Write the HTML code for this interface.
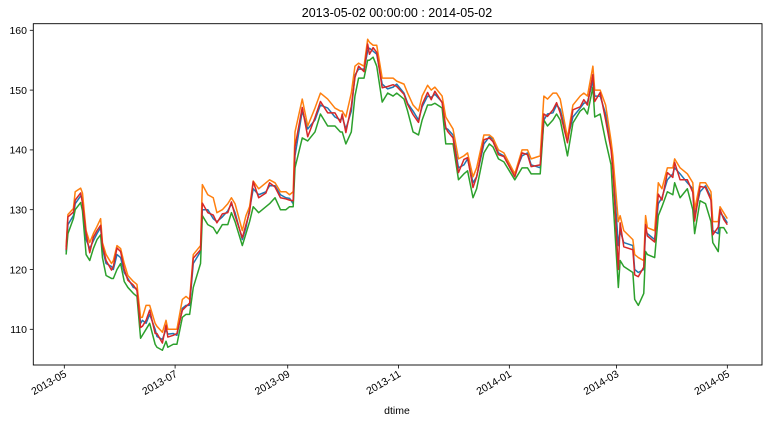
<!DOCTYPE html>
<html>
<head>
<meta charset="utf-8">
<style>
html,body{margin:0;padding:0;background:#fff;}
svg{display:block;font-family:"Liberation Sans",sans-serif;}
</style>
</head>
<body>
<svg id="chart" width="765" height="423" viewBox="0 0 765 423" xmlns="http://www.w3.org/2000/svg">
<rect x="0" y="0" width="765" height="423" fill="#fff"/>
<text x="397" y="17" text-anchor="middle" font-size="12.5" fill="#000">2013-05-02 00:00:00 : 2014-05-02</text>
<g id="series"></g>
<g id="yaxis"></g>
<g id="xaxis"></g>
<rect x="33.3" y="23.7" width="728.7" height="341.3" fill="none" stroke="#000" stroke-width="0.9"/>
<text x="397" y="414" text-anchor="middle" font-size="10.5" fill="#000">dtime</text>
</svg>
<script>
const days = [0,1,4,5,8,9,11,13,15,17, 19,20,22,25,26,28,30,32,34,37, 39,41,42,44,46,49,50,53,55,56, 59,61,64,66,68,70,74,75,78,81, 83,86,89,91,93,97,99,101,103,106, 110,112,115,118,121,123,125,126,130,133, 137,140,144,148,151,152,154,157,159,161, 164,166,167,169,171,174,177,180,182,186, 188,191,194,196,199,201,203,207,209,210, 213,216,219,221,224,226,230,233,235,238, 241,247,251,254,256,261,263,265,268,270, 272,276,279,283,285,287,290,291,294,297, 300,301,304,305,307,312,313,315,318,319, 320,324,326,328,331,334,335,338,342,345, 346,349,352,355,356,359,360,362,364];
const openVals = [123.0,127.5,129.0,131.0,132.3,132.0,125.0,123.5,124.8,126.0,
127.0,123.5,121.0,120.5,120.0,122.5,122.0,119.5,118.5,117.0,
116.8,111.0,111.5,111.0,112.5,110.0,108.8,108.3,110.0,109.2,
109.3,109.0,113.5,114.0,114.0,121.0,123.0,130.0,130.0,128.5,
128.0,128.8,129.8,131.0,129.5,125.0,127.0,130.0,133.5,132.5,
133.0,134.0,134.0,132.5,132.0,131.9,131.0,139.0,146.5,143.5,
145.0,147.5,147.0,145.5,145.0,145.5,143.5,146.5,152.5,153.5,
153.5,156.5,157.0,156.5,156.0,151.0,150.2,150.5,151.0,149.5,
147.8,146.5,145.0,147.2,149.0,148.8,149.3,148.0,143.5,143.5,
142.5,137.0,137.5,138.5,134.5,135.5,141.0,142.2,141.8,139.5,
139.0,136.0,139.0,139.5,137.5,137.0,145.0,146.0,146.2,147.5,
146.8,141.8,145.5,147.0,147.8,148.0,151.5,149.0,149.0,146.0,
141.0,137.5,124.0,126.5,124.5,124.0,120.0,119.5,120.0,126.5,
126.0,125.0,131.0,132.0,135.0,136.0,137.0,136.0,134.5,133.5,
129.0,133.0,134.0,132.0,126.5,126.0,129.5,128.8,127.8];
const highVals = [123.8,129.2,130.2,133.0,133.6,132.8,126.5,124.5,126.0,127.2,
128.5,124.5,122.5,121.0,121.5,124.0,123.5,121.0,119.0,118.0,
117.5,112.0,112.0,114.0,114.0,111.0,110.5,109.5,111.5,110.0,
110.0,110.0,115.0,115.5,115.0,122.5,124.0,134.2,132.5,132.0,
129.5,130.0,131.0,132.0,131.0,126.5,129.0,130.5,134.8,133.5,
134.5,135.0,134.5,133.0,133.0,132.5,133.0,143.0,148.5,144.0,
147.0,149.5,148.5,147.0,146.5,146.5,145.5,149.5,154.0,154.5,
154.0,158.5,158.0,157.5,157.5,152.0,152.0,152.0,151.5,151.0,
149.5,147.5,146.5,149.0,150.8,150.0,150.5,149.0,145.5,145.0,
143.5,138.5,139.0,139.5,135.5,137.0,142.5,142.5,142.0,140.0,
139.5,136.0,140.0,140.0,138.5,139.0,149.0,148.5,149.5,149.5,
148.5,142.0,147.5,149.0,149.5,149.0,154.0,150.0,150.0,147.5,
141.5,139.0,128.0,129.0,126.5,125.0,122.5,122.0,121.5,129.0,
127.0,126.5,134.5,133.5,137.0,137.0,138.5,137.0,136.0,134.5,
130.0,134.5,134.5,133.0,128.0,128.0,130.5,129.5,128.5];
const lowVals = [122.5,126.0,128.5,130.0,131.2,129.8,122.5,121.5,123.5,125.0,
125.8,122.0,119.0,118.5,118.5,120.0,121.0,118.0,117.0,116.0,
115.5,108.5,109.0,110.0,111.0,107.5,107.0,106.5,108.0,107.0,
107.5,107.5,112.0,112.5,112.5,117.0,121.0,129.0,127.5,127.0,
126.0,127.5,127.5,129.5,128.0,124.0,126.0,128.0,130.5,129.5,
130.5,131.0,132.0,130.0,130.0,130.5,130.5,137.0,142.0,141.5,
143.0,146.0,144.0,144.0,143.0,143.0,141.0,143.0,149.0,152.0,
152.0,155.0,155.0,155.5,154.0,148.0,149.5,149.0,149.5,148.5,
146.5,143.0,142.5,145.0,147.5,147.5,147.8,147.0,141.0,141.0,
141.0,135.0,136.0,136.5,132.0,133.5,139.5,141.0,140.5,138.5,
138.0,135.0,137.0,137.0,136.0,136.0,145.0,144.0,145.0,146.0,
145.0,139.0,144.5,146.5,147.0,146.0,150.5,145.5,146.0,141.5,
137.5,132.0,117.0,121.5,120.5,119.5,115.0,114.0,116.0,123.0,
122.5,122.0,129.0,130.5,133.0,132.5,134.5,132.0,133.5,130.0,
126.0,131.5,131.0,128.0,124.5,123.0,127.0,127.0,126.0];
const closeVals = [123.3,128.8,129.6,131.6,132.8,131.1,126.0,122.8,125.4,126.5,
127.4,124.0,121.5,119.9,120.5,123.6,123.0,120.0,118.2,117.4,
116.5,110.3,110.5,111.5,113.2,109.3,109.3,107.7,110.7,108.7,
109.0,109.3,113.2,113.8,114.4,121.9,123.3,131.1,129.5,129.1,
127.8,129.3,129.5,131.3,129.0,125.3,127.5,129.6,134.7,132.0,
132.8,134.5,133.8,132.0,131.8,131.6,131.5,140.5,147.1,142.2,
145.4,148.1,146.2,146.2,144.6,146.0,142.9,147.3,152.1,154.0,
153.1,157.7,156.0,157.1,156.3,150.4,150.6,150.9,150.6,149.3,
147.6,145.9,144.6,147.6,149.6,148.4,149.8,147.9,143.8,143.1,
142.0,136.2,138.4,138.7,133.7,135.5,141.7,142.0,141.4,139.2,
138.9,135.5,139.5,139.2,137.2,137.5,146.0,145.6,146.7,147.9,
146.2,141.2,146.7,147.2,148.4,147.5,152.6,148.1,149.6,145.0,
140.0,136.7,120.0,127.8,123.8,123.3,119.1,118.8,120.4,127.5,
125.6,124.6,132.6,131.6,136.2,135.4,137.9,135.0,135.0,132.9,
128.1,133.9,133.7,131.6,125.8,127.1,130.0,128.4,127.5];
const yTicks = [110,120,130,140,150,160];
const xTickDays = [-1,60,122,183,244,303,364];
const xTickLabels = ["2013-05","2013-07","2013-09","2013-11","2014-01","2014-03","2014-05"];

const NS = "http://www.w3.org/2000/svg";
function xS(d){ return 64.3 + (d + 1) * 1.8165; }
function yS(v){ return 329.3 - (v - 110) * 5.98; }

const seriesG = document.getElementById('series');
const seriesDefs = [
  {vals: openVals, color: '#1f77b4', name: 'open-line'},
  {vals: highVals, color: '#ff7f0e', name: 'high-line'},
  {vals: lowVals, color: '#2ca02c', name: 'low-line'},
  {vals: closeVals, color: '#d62728', name: 'close-line'}
];
seriesDefs.forEach(s => {
  const p = document.createElementNS(NS, 'polyline');
  p.setAttribute('points', days.map((d, i) => xS(d).toFixed(2) + ',' + yS(s.vals[i]).toFixed(2)).join(' '));
  p.setAttribute('fill', 'none');
  p.setAttribute('stroke', s.color);
  p.setAttribute('stroke-width', '1.5');
  p.setAttribute('stroke-linejoin', 'round');
  
  
  seriesG.appendChild(p);
});

const yG = document.getElementById('yaxis');
yTicks.forEach(v => {
  const y = yS(v);
  const t = document.createElementNS(NS, 'line');
  t.setAttribute('x1', 29.8); t.setAttribute('x2', 33.3);
  t.setAttribute('y1', y); t.setAttribute('y2', y);
  t.setAttribute('stroke', '#000'); t.setAttribute('stroke-width', '0.8');
  
  
  yG.appendChild(t);
  const l = document.createElementNS(NS, 'text');
  l.setAttribute('x', 27); l.setAttribute('y', y + 3.8);
  l.setAttribute('text-anchor', 'end'); l.setAttribute('font-size', '10.5');
  l.textContent = v;
  
  
  yG.appendChild(l);
});

const xG = document.getElementById('xaxis');
xTickDays.forEach((d, i) => {
  const x = xS(d);
  const t = document.createElementNS(NS, 'line');
  t.setAttribute('x1', x); t.setAttribute('x2', x);
  t.setAttribute('y1', 365); t.setAttribute('y2', 368.5);
  t.setAttribute('stroke', '#000'); t.setAttribute('stroke-width', '0.8');
  
  
  xG.appendChild(t);
  const l = document.createElementNS(NS, 'text');
  l.setAttribute('x', x + 3); l.setAttribute('y', 376);
  l.setAttribute('text-anchor', 'end'); l.setAttribute('font-size', '10.5');
  l.setAttribute('transform', 'rotate(-30 ' + (x + 3) + ' 376)');
  l.textContent = xTickLabels[i];
  
  
  xG.appendChild(l);
});
</script>
</body>
</html>
